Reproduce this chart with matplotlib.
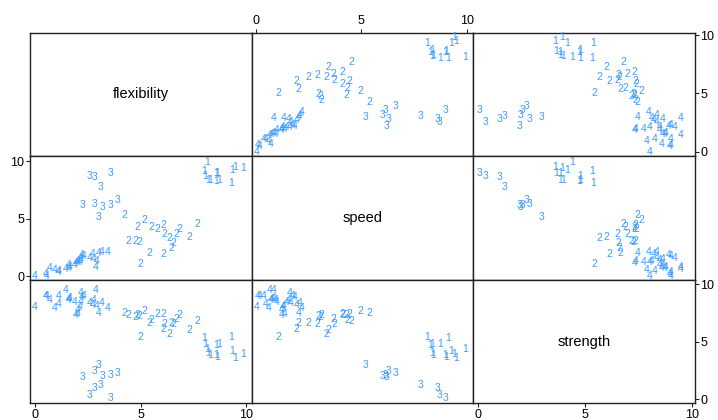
import matplotlib
matplotlib.use("Agg")
import matplotlib.pyplot as plt
import numpy as np

plt.rcParams["font.family"] = ["Liberation Sans", "DejaVu Sans"]

variables = ["flexibility", "speed", "strength"]
tick_values = [0, 5, 10]

g1_flex = [9.3, 8.57, 8.71, 8.2, 8.29, 8.05, 8.65, 8.57, 8.0, 9.34, 9.86, 9.51, 8.14]
g1_speed = [8.1, 8.25, 8.37, 8.33, 8.4, 8.72, 9.0, 8.96, 9.11, 9.27, 9.38, 9.48, 9.9]
g1_strength = [5.4, 4.72, 4.78, 4.0, 3.85, 4.78, 3.67, 3.85, 5.34, 4.2, 3.93, 3.62, 4.4]

g2_flex = [5.0, 4.23, 5.2, 7.71, 7.3, 6.08, 5.4, 6.45, 6.55, 6.37, 6.68, 6.12, 6.86, 5.8,
           6.1, 5.5, 4.85, 4.94, 4.43, 4.77]
g2_speed = [1.06, 5.37, 4.93, 4.53, 3.45, 1.93, 2.0, 2.48, 2.92, 3.35, 3.66, 3.72, 4.1, 4.08,
            4.43, 4.32, 4.27, 2.97, 3.11, 3.07]
g2_strength = [5.45, 7.48, 7.65, 6.8, 6.0, 6.15, 6.65, 6.6, 6.55, 5.68, 6.98, 6.51, 7.3, 7.4,
               7.38, 6.9, 7.3, 7.25, 7.35, 7.2]

g3_flex = [3.0, 3.2, 3.57, 2.84, 2.25, 3.9, 3.09, 2.82, 2.57, 3.57]
g3_speed = [5.17, 6.0, 6.16, 6.3, 6.2, 6.62, 7.8, 8.62, 8.72, 8.96]
g3_strength = [3.0, 2.0, 2.08, 2.44, 1.98, 2.28, 1.24, 1.01, 0.35, 0.08]

g4_flex = [0.0, 0.55, 0.5, 1.14, 1.14, 0.95, 1.43, 0.7, 1.57, 2.86, 1.57, 1.86, 2.0, 2.09,
           2.92, 2.0, 2.14, 2.78, 2.14, 2.57, 2.29, 2.2, 2.71, 3.0, 3.14, 3.43, 1.9, 1.66]
g4_speed = [0.03, 0.06, 0.19, 0.35, 0.47, 0.58, 0.63, 0.7, 0.74, 0.85, 0.95, 0.98, 1.22, 1.29,
            1.33, 1.37, 1.45, 1.53, 1.58, 1.64, 1.74, 1.85, 1.93, 2.01, 2.09, 2.16, 1.2, 0.82]
g4_strength = [8.05, 9.01, 8.95, 9.01, 8.26, 7.91, 9.5, 8.6, 8.72, 9.5, 8.63, 8.49, 7.77, 8.05,
               8.14, 7.39, 8.49, 8.63, 9.22, 8.35, 9.01, 8.92, 8.2, 7.48, 8.35, 7.97, 7.33, 8.78]

groups = ["1", "2", "3", "4"]
data = {
    "1": {"flexibility": g1_flex, "speed": g1_speed, "strength": g1_strength},
    "2": {"flexibility": g2_flex, "speed": g2_speed, "strength": g2_strength},
    "3": {"flexibility": g3_flex, "speed": g3_speed, "strength": g3_strength},
    "4": {"flexibility": g4_flex, "speed": g4_speed, "strength": g4_strength},
}

W, H = 718, 420
fig = plt.figure(figsize=(W / 100, H / 100), dpi=100)

left_px, right_px, top_px, bottom_px = 30.0, 695.0, 32.7, 403.3
cw = (right_px - left_px) / 3
rh = (bottom_px - top_px) / 3

col_xlims = [(-0.24, 10.27), (-0.2, 10.3), (-0.2, 10.15)]
row_ylims = [(-0.37, 10.2), (-0.29, 10.43), (-0.35, 10.4)]

point_color = "#3d9bff"
frame_color = "#222222"

axes = {}
for i in range(3):
    for j in range(3):
        x0 = left_px + j * cw
        y0 = top_px + i * rh
        ax = fig.add_axes([x0 / W, 1 - (y0 + rh) / H, cw / W, rh / H])
        axes[(i, j)] = ax
        ax.set_xlim(*col_xlims[j])
        ax.set_ylim(*row_ylims[i])
        for s in ax.spines.values():
            s.set_color(frame_color)
            s.set_linewidth(1.0)
        ax.set_xticks([])
        ax.set_yticks([])
        if i == j:
            ax.text(0.5, 0.5, variables[i], transform=ax.transAxes,
                    ha="center", va="center", fontsize=10.5, color="black")
        else:
            xv = variables[j]
            yv = variables[i]
            for g in groups:
                xs = data[g][xv]
                ys = data[g][yv]
                for xx, yy in zip(xs, ys):
                    ax.text(xx, yy, g, ha="center", va="center", fontsize=7.5,
                            color=point_color, clip_on=False)

tick_kw = dict(length=3.0, width=0.8, color=frame_color, labelsize=9, pad=1.0,
               labelcolor="black")

ax = axes[(0, 1)]
ax.set_xticks(tick_values)
ax.xaxis.tick_top()
ax.tick_params(axis="x", **tick_kw)

ax = axes[(0, 2)]
ax.set_yticks(tick_values)
ax.yaxis.tick_right()
ax.tick_params(axis="y", **tick_kw)

ax = axes[(1, 0)]
ax.set_yticks(tick_values)
ax.yaxis.tick_left()
ax.tick_params(axis="y", **tick_kw)

ax = axes[(2, 0)]
ax.set_xticks(tick_values)
ax.tick_params(axis="x", **tick_kw)
ax = axes[(2, 2)]
ax.set_xticks(tick_values)
ax.set_yticks(tick_values)
ax.yaxis.tick_right()
ax.tick_params(axis="both", **tick_kw)

fig.savefig("out.png", dpi=100)
